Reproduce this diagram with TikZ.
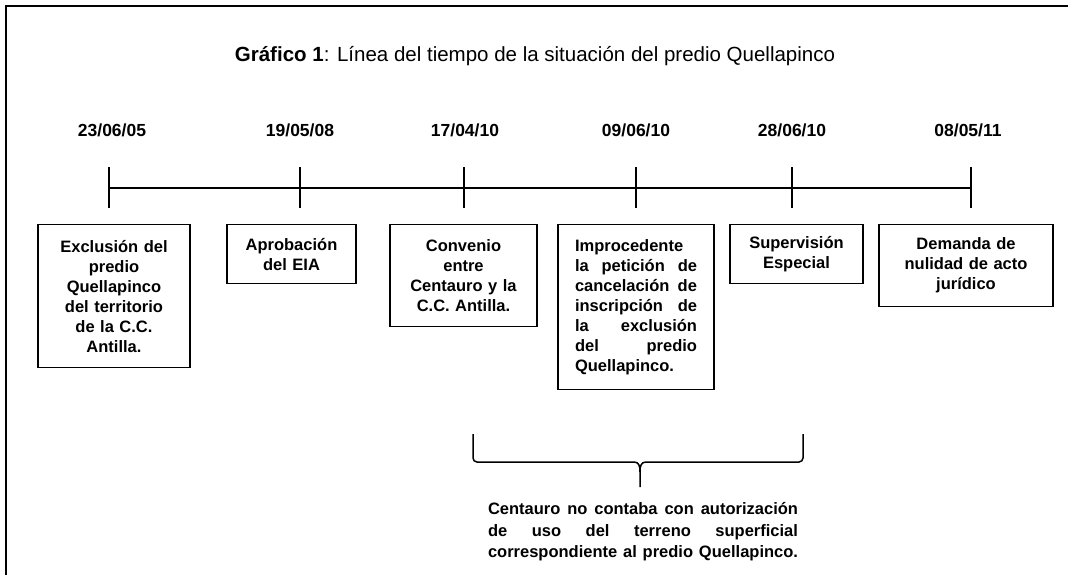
\documentclass[tikz,border=0pt]{standalone}
\usepackage{fontspec}
\setmainfont{Liberation Sans}
\usetikzlibrary{positioning}

\tikzset{
  event/.style={draw, line width=1.3pt, anchor=north, align=center,
    font=\bfseries\fontsize{16.5}{20}\selectfont, inner sep=0pt},
  date/.style={anchor=base, font=\bfseries\fontsize{17.5}{20}\selectfont},
  note/.style={align=left, text width=310, inner sep=0pt,
    font=\bfseries\fontsize{16.5}{21.5}\selectfont}
}

\begin{document}
\begin{tikzpicture}[x=1pt,y=-1pt,line width=1.5pt]
  \useasboundingbox (0,0) rectangle (1068,575);
  % frame
  \draw[line width=2pt] (6,575) -- (6,6) -- (1068,6);
  \node[anchor=base, font=\fontsize{20.5}{24}\selectfont] (title) at (535,62)
  {\textbf{Gráfico 1}: Línea del tiempo de la situación del predio Quellapinco};

  % timeline
  \coordinate (t1) at (109,188);
  \coordinate (t2) at (300,188);
  \coordinate (t3) at (464,188);
  \coordinate (t4) at (636,188);
  \coordinate (t5) at (792,188);
  \coordinate (t6) at (971,188);
  \draw (t1) -- (t6);
  \foreach \i in {1,...,6}
    \draw (t\i) ++(0,-21) -- ++(0,41);

  \node[date] (d1) at (112,137) {23/06/05};
  \node[date] (d2) at (300,137) {19/05/08};
  \node[date] (d3) at (465,137) {17/04/10};
  \node[date] (d4) at (636,137) {09/06/10};
  \node[date] (d5) at (792,137) {28/06/10};
  \node[date] (d6) at (968,137) {08/05/11};

  % events
  \node[event, minimum width=152, minimum height=143, text width=140]
    (e1) at (114,224) {Exclusión del\\predio\\Quellapinco\\del territorio\\de la C.C.\\Antilla.};
  \node[event, minimum width=129, minimum height=59, text width=120]
    (e2) at (291.5,224) {Aprobación\\del EIA};
  \node[event, minimum width=147, minimum height=102, text width=136]
    (e3) at (463.5,224) {Convenio\\entre\\Centauro y la\\C.C. Antilla.};
  \node[event, minimum width=156, minimum height=165, text width=122, align=left]
    (e4) at (636,224) {Improcedente\\la\hfill petición\hfill de\\cancelación\hfill de\\
    inscripción\hfill de\\la\hfill exclusión\\del\hfill predio\\Quellapinco.};
  \node[event, minimum width=133, minimum height=59, text width=124]
    (e5) at (796.5,224) {Supervisión\\Especial};
  \node[event, minimum width=174, minimum height=82, text width=160]
    (e6) at (966,224) {Demanda de\\nulidad de acto\\jurídico};

  % brace
  \coordinate (bl) at (473,434);
  \coordinate (br) at (803,434);
  \coordinate (bt) at (640,487);
  \draw[rounded corners=4pt] (bl) -- (473,462) -- (634,462);
  \draw[rounded corners=4pt] (br) -- (803,462) -- (646,462);
  \draw (634,462) .. controls (639,462) and (640,466) .. (640,472) -- (bt);
  \draw (646,462) .. controls (641,462) and (640,466) .. (640,472);

  \node[note, below=15pt of bt, xshift=3pt] (note)
  {Centauro\hfill no\hfill contaba\hfill con\hfill autorización\\
  de\hfill uso\hfill del\hfill terreno\hfill superficial\\
  correspondiente\hfill al\hfill predio\hfill Quellapinco.};
\end{tikzpicture}
\end{document}
